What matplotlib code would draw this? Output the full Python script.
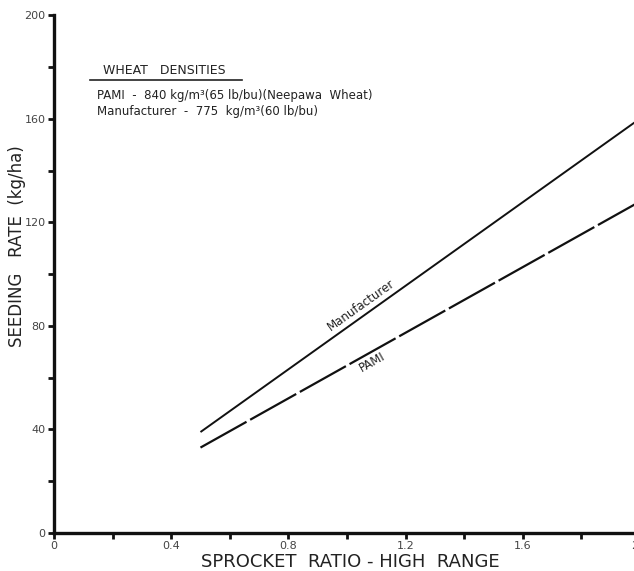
import matplotlib.pyplot as plt
import numpy as np

plt.rcParams['font.family'] = ['DejaVu Sans']
plt.rcParams['lines.scale_dashes'] = False

# sprocket ratio (high range) vs seeding rate
ratio = [0.5, 2.0]
manufacturer = [39, 160]
pami = [33, 128]

xticks_major = [0, 0.4, 0.8, 1.2, 1.6, 2.0]
xtick_labels = ['0', '0.4', '0.8', '1.2', '1.6', '2.0']
yticks_major = [0, 40, 80, 120, 160, 200]

fig = plt.figure(figsize=(6.34, 5.71), dpi=100)
ax = fig.add_axes([0.0852, 0.0665, 0.924, 0.907])

ax.plot(ratio, manufacturer, color='#111111', lw=1.4, solid_capstyle='butt')
ax.plot(ratio, pami, color='#111111', lw=1.6, dashes=(38, 3))

ax.set_xlim(0, 2.0)
ax.set_ylim(0, 200)
ax.set_xticks(xticks_major)
ax.set_xticklabels(xtick_labels)
ax.set_xticks(np.arange(0, 2.01, 0.2), minor=True)
ax.set_yticks(yticks_major)
ax.set_yticks(np.arange(0, 201, 20), minor=True)

for s in ['top', 'right']:
    ax.spines[s].set_visible(False)
for s in ['left', 'bottom']:
    ax.spines[s].set_linewidth(2.4)
    ax.spines[s].set_color('#111111')

ax.tick_params(which='both', direction='out', length=4, width=2, color='#111111')
ax.tick_params(labelsize=8, labelcolor='#444444', pad=2)

ax.set_xlabel('SPROCKET  RATIO - HIGH  RANGE', fontsize=13, color='#222222', va='center')
ax.xaxis.set_label_coords(0.505, -0.055)
ax.set_ylabel('SEEDING   RATE  (kg/ha)', fontsize=12, color='#222222', va='center')
ax.yaxis.set_label_coords(-0.063, 0.554)

# line labels
ax.text(1.05, 88, 'Manufacturer', rotation=35.5, fontsize=8.5, ha='center', va='center',
        rotation_mode='anchor', color='#222222')
ax.text(1.085, 66, 'PAMI', rotation=29.5, fontsize=8.5, ha='center', va='center',
        rotation_mode='anchor', color='#222222')

# legend block
fig.text(103 / 634, 1 - 70 / 571, 'WHEAT   DENSITIES', fontsize=9, va='center', color='#222222')
fig.add_artist(plt.Line2D([90 / 634, 242 / 634], [1 - 80 / 571, 1 - 80 / 571],
                          color='#222222', lw=1.2))
fig.text(97 / 634, 1 - 95 / 571, 'PAMI  -  840 kg/m³(65 lb/bu)(Neepawa  Wheat)',
         fontsize=8.5, va='center', color='#222222')
fig.text(97 / 634, 1 - 111 / 571, 'Manufacturer  -  775  kg/m³(60 lb/bu)',
         fontsize=8.5, va='center', color='#222222')

fig.savefig('out.png', dpi=100)
